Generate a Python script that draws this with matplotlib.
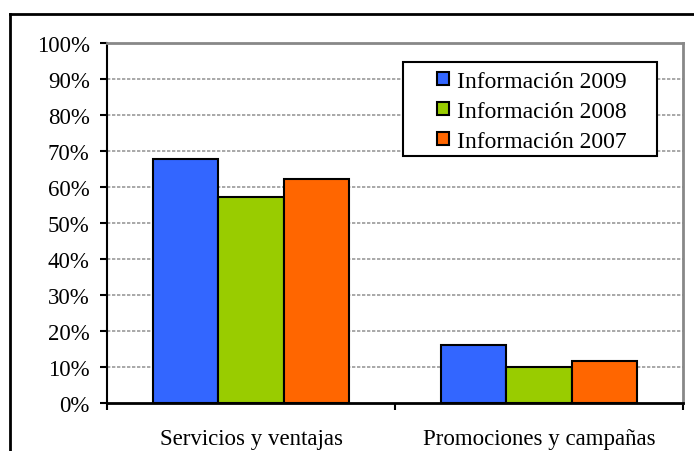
import matplotlib
matplotlib.use("Agg")
import matplotlib.pyplot as plt
from matplotlib.lines import Line2D
from matplotlib.patches import Rectangle
from matplotlib.ticker import FuncFormatter, FixedLocator
import numpy as np

categories = ["Servicios y ventajas", "Promociones y campañas"]
series_names = ["Información 2009", "Información 2008", "Información 2007"]
values_2009 = [67.7, 16.1]
values_2008 = [57.2, 10.0]
values_2007 = [62.1, 11.7]
colors = ["#3366FF", "#99CC00", "#FF6600"]

plt.rcParams['font.family'] = ['Liberation Serif', 'DejaVu Serif']
fs = 16.5
lfs = 17

fig = plt.figure(figsize=(6.94, 4.52), dpi=100)
W, H = 694, 452
ax = fig.add_axes([107 / W, 1 - 404 / H, (683 - 107) / W, (404 - 44) / H])

x = np.arange(len(categories))
bw = 0.226
series = [values_2009, values_2008, values_2007]
for i, (vals, name, c) in enumerate(zip(series, series_names, colors)):
    ax.bar(x + (i - 1) * bw, vals, bw, color=c, edgecolor='black', linewidth=1.5,
           label=name, zorder=3)

ax.set_xlim(-0.5, 1.5)
ax.set_ylim(0, 100)
ax.set_yticks(np.arange(0, 101, 10))
ax.yaxis.set_major_formatter(FuncFormatter(lambda v, p: f"{int(v)}%"))
ax.tick_params(axis='y', direction='out', length=5, width=1.5, labelsize=fs, pad=7.5)
ax.xaxis.set_major_locator(FixedLocator([-0.5, 0.5, 1.5]))
ax.set_xticklabels([])
ax.xaxis.set_minor_locator(FixedLocator(x))
ax.set_xticklabels(categories, minor=True)
ax.tick_params(axis='x', which='major', direction='out', length=5, width=1.5)
ax.tick_params(axis='x', which='minor', length=0, labelsize=fs, pad=18)

for yv in range(10, 100, 10):
    ax.axhline(yv, color='#999999', linestyle=(0, (2, 1)), linewidth=1.2, zorder=1)

ax.spines['left'].set_color('black')
ax.spines['left'].set_linewidth(1.5)
ax.spines['bottom'].set_color('black')
ax.spines['bottom'].set_linewidth(2)
ax.spines['bottom'].set_zorder(4)
for s in ['top', 'right']:
    ax.spines[s].set_color('#888888')
    ax.spines[s].set_linewidth(2)

# legend frame drawn separately (white box with black border)
fig.add_artist(Rectangle((403 / W, 1 - 157 / H), (657 - 403) / W, (157 - 63) / H,
                         transform=fig.transFigure, facecolor='white',
                         edgecolor='black', linewidth=1.5, zorder=5))
leg = fig.legend(*ax.get_legend_handles_labels(), loc='upper left',
                 bbox_to_anchor=(437 / W, 1 - 72 / H), frameon=False, fontsize=lfs,
                 handlelength=0.5, handleheight=0.5, handletextpad=0.35,
                 labelspacing=0.38, borderpad=0, borderaxespad=0)
leg.set_zorder(6)

fig.add_artist(Line2D([10 / W, 1], [1 - 15 / H, 1 - 15 / H], color='black', lw=2,
                      transform=fig.transFigure))
fig.add_artist(Line2D([10 / W, 10 / W], [0, 1 - 15 / H], color='black', lw=2,
                      transform=fig.transFigure))

fig.savefig("out.png", dpi=100)
